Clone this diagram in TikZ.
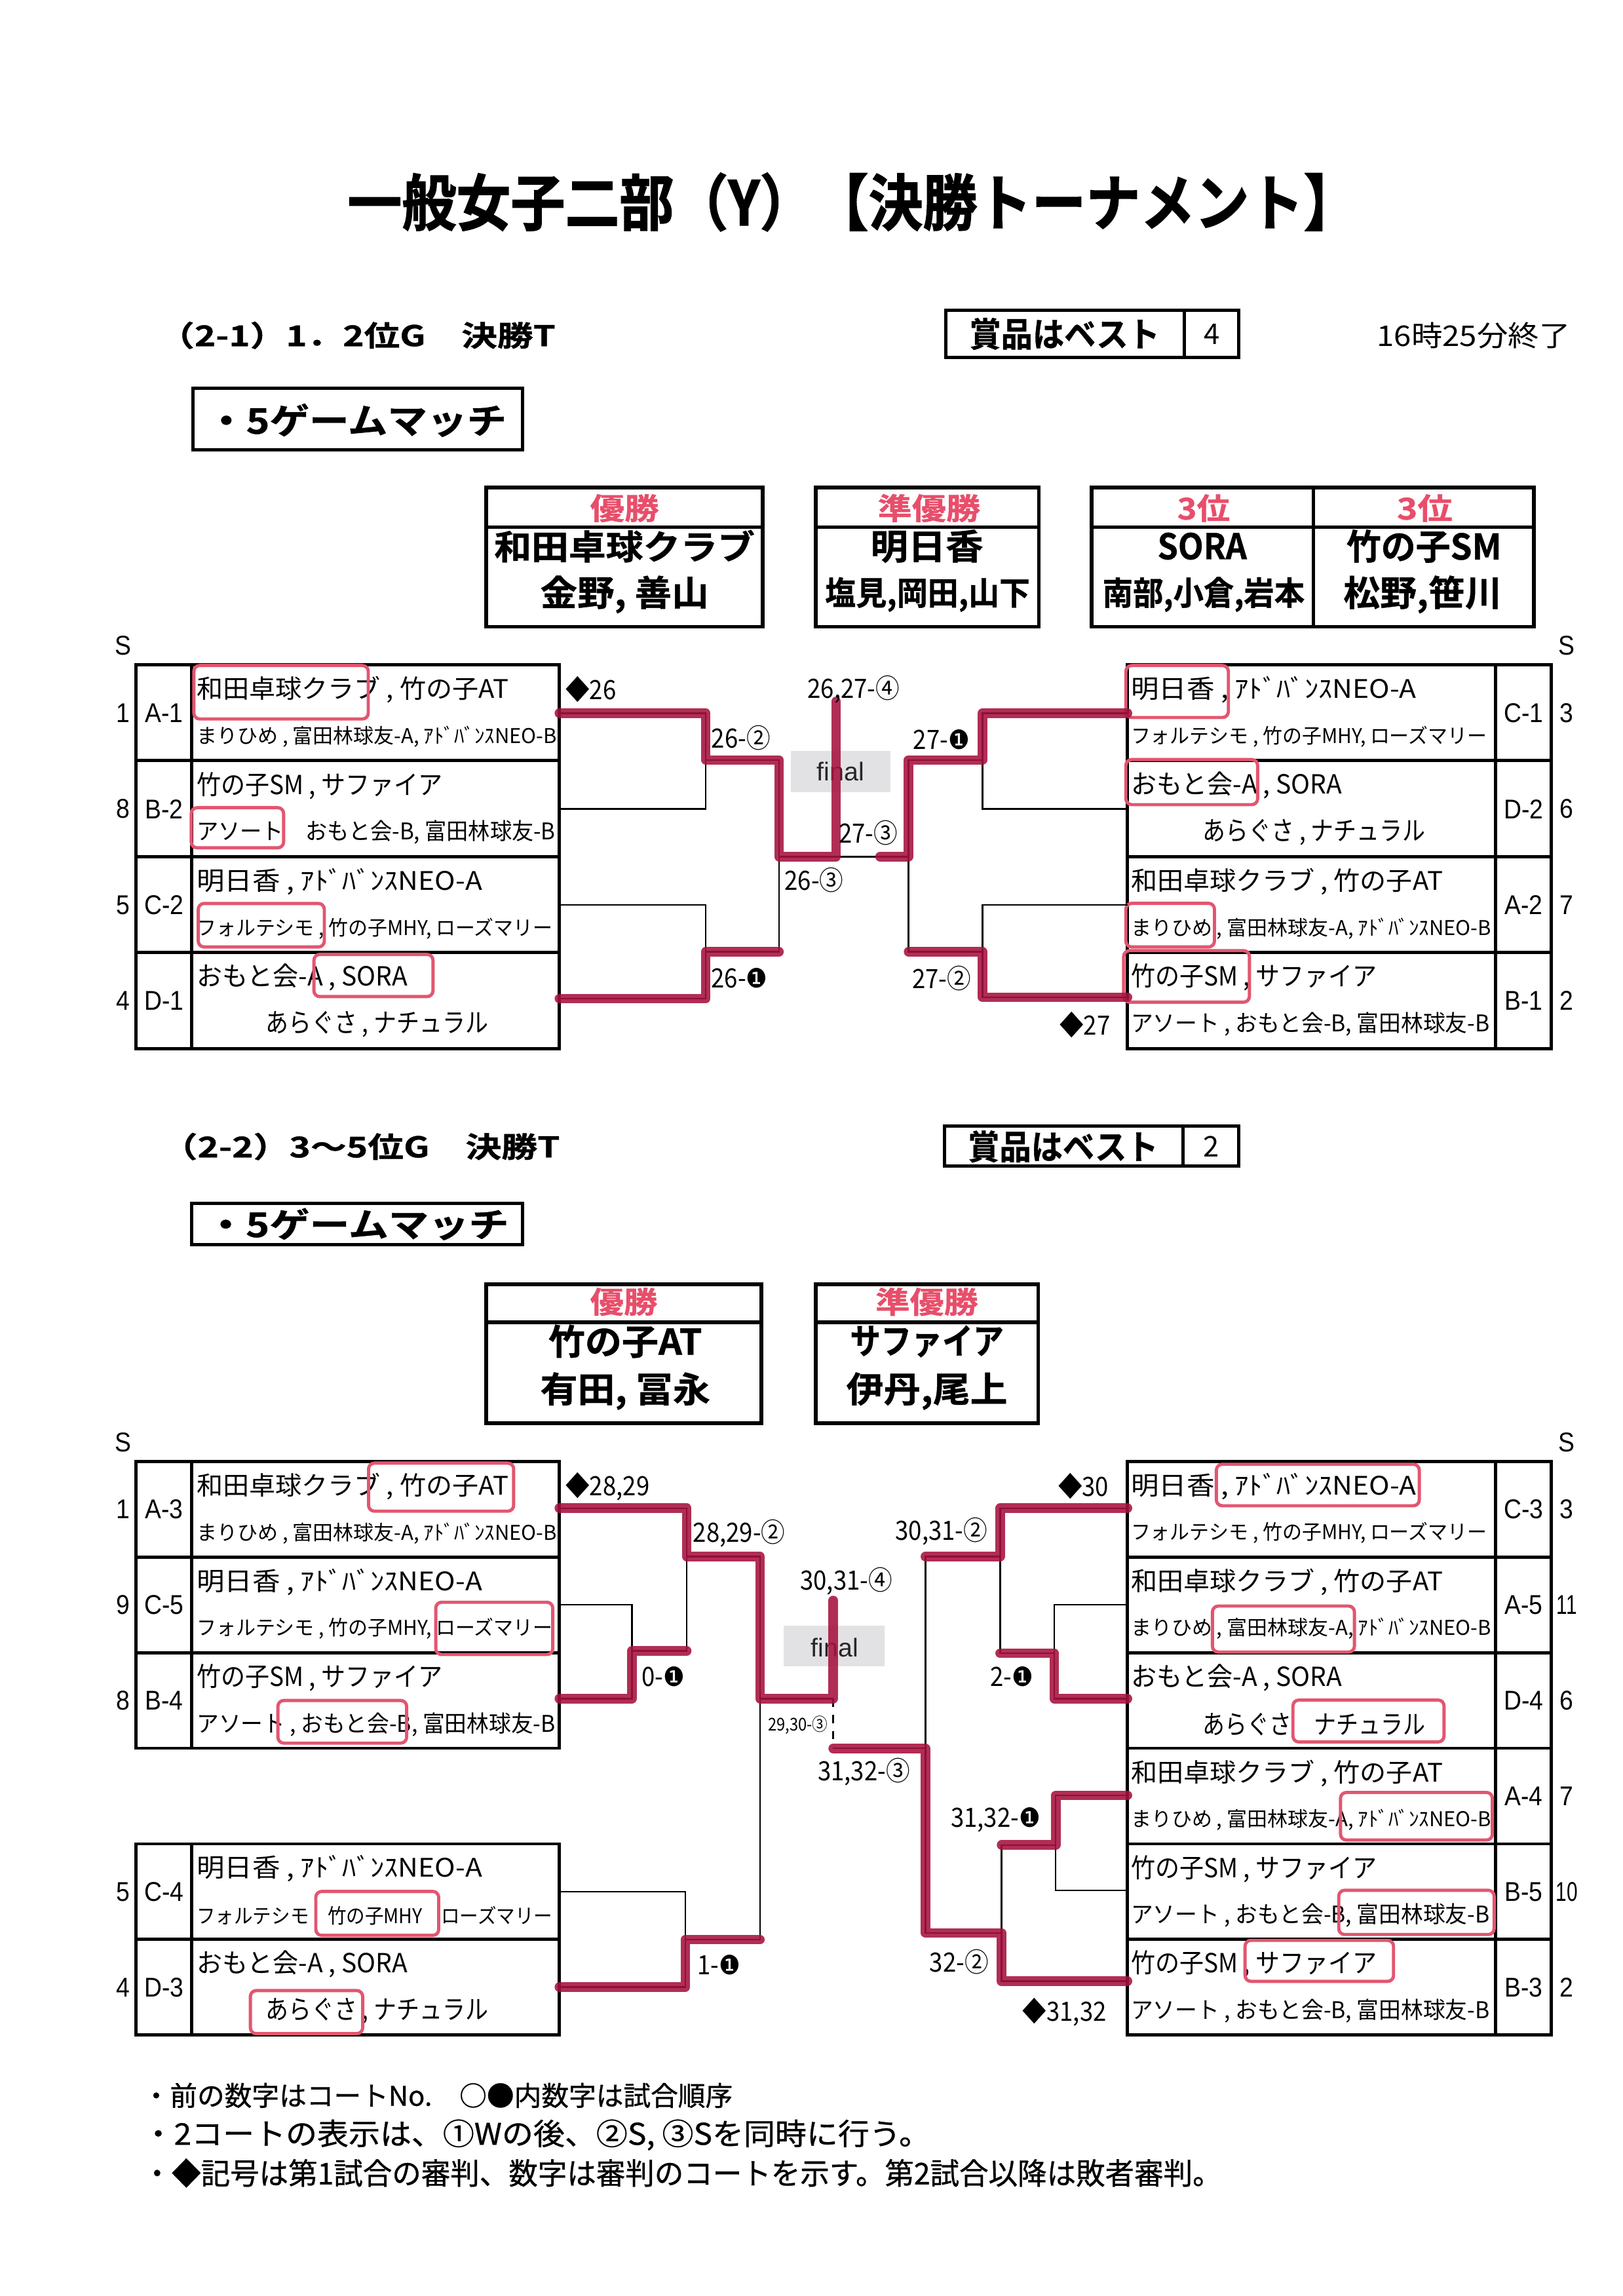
\documentclass[tikz,border=0pt]{standalone}
\usepackage{fontspec}
\usepackage{graphicx}
\setmainfont{Noto Sans CJK JP}
\newfontfamily\jp{Noto Sans CJK JP}
\newfontfamily\jpm{Noto Sans CJK JP}[FakeBold=0.7]
\newfontfamily\jpb{Noto Sans CJK JP Bold}[FakeBold=0.8]
\newfontfamily\jph{Noto Sans CJK JP Bold}[FakeBold=1.6]
\newfontfamily\lat{Liberation Sans}
\newfontfamily\dv{DejaVu Sans}
\definecolor{hlred}{RGB}{166,18,62}
\definecolor{boxred}{RGB}{226,86,112}
\definecolor{titred}{RGB}{232,78,106}
\definecolor{fgray}{RGB}{226,226,229}
\newlength\pxu \setlength\pxu{0.18953mm}
\newcommand\fitw[3]{\resizebox{#1\pxu}{\height}{\fontsize{#2}{#2}\selectfont #3}}
\newcommand\tl[3]{\fitw{#1}{#2}{\jp #3}}
\newcommand\sdf[1]{\scalebox{0.9}[1]{\fontsize{10}{10}\selectfont\lat #1}}
\newcommand\bk{{\dv ❶}}
\newcommand\lb[1]{\scalebox{0.9}[1]{\fontsize{9.8}{9.8}\selectfont\jp #1}}
\newcommand\Ta{\tl{213}{9.4}{和田卓球クラブ , 竹の子AT}}
\newcommand\Tb{\tl{246}{7.5}{まりひめ , 富田林球友-A, ｱﾄﾞﾊﾞﾝｽNEO-B}}
\newcommand\Tc{\tl{168}{9.7}{竹の子SM , サファイア}}
\newcommand\Td{\tl{245}{8.5}{アソート , おもと会-B, 富田林球友-B}}
\newcommand\Tdx{\tl{245}{8.5}{アソート\quad おもと会-B, 富田林球友-B}}
\newcommand\Te{\tl{195}{9.4}{明日香 , ｱﾄﾞﾊﾞﾝｽNEO-A}}
\newcommand\Tf{\tl{243}{7.5}{フォルテシモ , 竹の子MHY, ローズマリー}}
\newcommand\Tfx{\tl{243}{7.5}{フォルテシモ\quad 竹の子MHY\quad ローズマリー}}
\newcommand\Tg{\tl{144}{9.7}{おもと会-A , SORA}}
\newcommand\Th{\tl{152}{9.7}{あらぐさ , ナチュラル}}
\newcommand\Thx{\tl{152}{9.7}{あらぐさ\quad ナチュラル}}
\begin{document}
\begin{tikzpicture}[x=0.18953mm,y=-0.18953mm,
  tbl/.style={line width=2.2\pxu},
  thinl/.style={line width=1.1\pxu},
  hl/.style={line width=6.5\pxu, draw=hlred, opacity=0.88, line cap=round, line join=round},
  rbox/.style={line width=2.2\pxu, draw=boxred, rounded corners=4\pxu},
  tx/.style={inner sep=0pt, anchor=west},
  cx/.style={inner sep=0pt},
  awbox/.style={line width=2.6\pxu}]
\fill[white] (0,0) rectangle (1108,1568);
\useasboundingbox (0,0) rectangle (1108,1568);

% ---------------- header ----------------
\node[cx] (title) at (582.4,138) {\fitw{690}{22.5}{\jph 一般女子二部（Y）【決勝トーナメント】}};
\node[tx] (sub1) at (108,229) {\fitw{271}{10.5}{\jpb （2-1）1．2位G　決勝T}};
\draw[tbl] (646,212) rectangle (846,244) (809,212) -- (809,244);
\node[cx] (prz1) at (727,228) {\fitw{130}{12.5}{\jpb 賞品はベスト}};
\node[cx] (prz1n) at (827.5,228) {\fontsize{10.5}{10.5}\selectfont\jp 4};
\node[tx] (time) at (940,229) {\fitw{132}{10.5}{\jp 16時25分終了}};
\draw[tbl] (131.6,265) rectangle (357,307);
\node[cx] (gm1) at (243.5,287) {\fitw{205}{13}{\jpb ・5ゲームマッチ}};

% award boxes 1
\draw[awbox] (332,333) rectangle (521,428) (332,360) -- (521,360);
\draw[awbox] (557,333) rectangle (709.5,428) (557,360) -- (709.5,360);
\draw[awbox] (745.5,333) rectangle (1047.5,428) (745.5,360) -- (1047.5,360) (897,333) -- (897,428);
\node[cx] (a1h) at (426.5,347) {\fitw{47}{11}{\jpb\color{titred}優勝}};
\node[cx] (a1n) at (426.5,373) {\fitw{178}{12.5}{\jpb 和田卓球クラブ}};
\node[cx] (a1p) at (426.5,406) {\fitw{115}{13}{\jpb 金野, 善山}};
\node[cx] (a2h) at (634.5,347) {\fitw{70}{11}{\jpb\color{titred}準優勝}};
\node[cx] (a2n) at (633,373) {\fitw{77}{13}{\jpb 明日香}};
\node[cx] (a2p) at (633.5,406) {\fitw{140}{12}{\jpb 塩見,岡田,山下}};
\node[cx] (a3h) at (822,347) {\fitw{36}{11}{\jpb\color{titred}3位}};
\node[cx] (a4h) at (973,347) {\fitw{38}{11}{\jpb\color{titred}3位}};
\node[cx] (a3n) at (821,373) {\fitw{61}{13}{\jpb SORA}};
\node[cx] (a4n) at (972.5,373) {\fitw{106}{13}{\jpb 竹の子SM}};
\node[cx] (a3p) at (822,406) {\fitw{138}{12}{\jpb 南部,小倉,岩本}};
\node[cx] (a4p) at (971.5,406) {\fitw{108}{13}{\jpb 松野,笹川}};

% ---------------- bracket 1 tables ----------------
\node[cx] (S1L) at (84,441) {\sdf{S}};
\node[cx] (S1R) at (1070,441) {\sdf{S}};
\draw[tbl] (93,454) rectangle (382,716) (131,454) -- (131,716)
  (93,519.5) -- (382,519.5) (93,585) -- (382,585) (93,650.5) -- (382,650.5);
\draw[tbl] (770,454) rectangle (1059.5,716) (1021.5,454) -- (1021.5,716)
  (770,519.5) -- (1059.5,519.5) (770,585) -- (1059.5,585) (770,650.5) -- (1059.5,650.5);
% left seeds
\node[cx] (n11) at (84,487) {\sdf{1}}; \node[cx] (s11) at (112,487) {\sdf{A-1}};
\node[cx] (n12) at (84,552.5) {\sdf{8}}; \node[cx] (s12) at (112,552.5) {\sdf{B-2}};
\node[cx] (n13) at (84,618) {\sdf{5}}; \node[cx] (s13) at (112,618) {\sdf{C-2}};
\node[cx] (n14) at (84,683.5) {\sdf{4}}; \node[cx] (s14) at (112,683.5) {\sdf{D-1}};
% right seeds
\node[cx] (s15) at (1040.5,487) {\sdf{C-1}}; \node[cx] (n15) at (1070,487) {\sdf{3}};
\node[cx] (s16) at (1040.5,552.5) {\sdf{D-2}}; \node[cx] (n16) at (1070,552.5) {\sdf{6}};
\node[cx] (s17) at (1040.5,618) {\sdf{A-2}}; \node[cx] (n17) at (1070,618) {\sdf{7}};
\node[cx] (s18) at (1040.5,683.5) {\sdf{B-1}}; \node[cx] (n18) at (1070,683.5) {\sdf{2}};
% left texts
\node[tx] (t11a) at (134,471) {\Ta};   \node[tx] (t11b) at (134,503) {\Tb};
\node[tx] (t12a) at (134,536.5) {\Tc}; \node[tx] (t12b) at (134,568.5) {\Tdx};
\node[tx] (t13a) at (134,602) {\Te};   \node[tx] (t13b) at (134,634) {\Tf};
\node[tx] (t14a) at (134,667.5) {\Tg}; \node[tx] (t14b) at (181,699.5) {\Th};
% right texts
\node[tx] (t15a) at (772,471) {\Te};   \node[tx] (t15b) at (772,503) {\Tf};
\node[tx] (t16a) at (772,536.5) {\Tg}; \node[tx] (t16b) at (821,568.5) {\Th};
\node[tx] (t17a) at (772,602) {\Ta};   \node[tx] (t17b) at (772,634) {\Tb};
\node[tx] (t18a) at (772,667.5) {\Tc}; \node[tx] (t18b) at (772,699.5) {\Td};
% red boxes
\draw[rbox] (132.4,454.5) rectangle (251.5,491);
\draw[rbox] (130.6,551.6) rectangle (193.7,579);
\draw[rbox] (135.4,617) rectangle (221.5,646.7);
\draw[rbox] (214.4,651.8) rectangle (295.7,680.6);
\draw[rbox] (768.9,454.5) rectangle (838.9,490);
\draw[rbox] (768.9,518.7) rectangle (858.9,549.5);
\draw[rbox] (768.9,616.9) rectangle (829.4,646.7);
\draw[rbox] (767.4,649.2) rectangle (853.3,684.4);

% ---------------- bracket 1 lines ----------------
\fill[fgray] (540,513) rectangle (608,541);
\node[cx] (fin1) at (574,527) {\fontsize{9.5}{9.5}\selectfont\lat\color{black!85}final};
\coordinate (pA1) at (382,487); \coordinate (pB2) at (382,552.5);
\coordinate (pC2) at (382,618); \coordinate (pD1) at (382,682);
\coordinate (j1) at (482,519); \coordinate (j2) at (482,650);
\coordinate (s1) at (532,585); \coordinate (f1) at (571,479);
\coordinate (qC1) at (770,487); \coordinate (qD2) at (770,552.5);
\coordinate (qA2) at (770,618); \coordinate (qB1) at (770,681);
\coordinate (k1) at (671,519); \coordinate (k2) at (671,650);
\coordinate (s2) at (620.5,585); \coordinate (s2r) at (601,585);
\draw[thinl] (pA1) -| (j1) |- (pB2);
\draw[thinl] (pC2) -| (j2) |- (pD1);
\draw[thinl] (j1) -| (s1) |- (j2);
\draw[thinl] (s1) -- (s2);
\draw[thinl] (qC1) -| (k1) |- (qD2);
\draw[thinl] (qA2) -| (k2) |- (qB1);
\draw[thinl] (k1) -| (s2) |- (k2);
\draw[hl] (pA1) -| (j1) -| (s1) -| (f1);
\draw[hl] (pD1) -| (j2) -- (s1 |- j2);
\draw[hl] (qC1) -| (k1) -| (s2) -- (s2r);
\draw[hl] (qB1) -| (k2) -- (s2 |- k2);
% labels
\node[tx] (d26) at (386,471) {\lb{◆26}};
\node[cx] (l262) at (506,504) {\lb{26-②}};
\node[cx] (l261) at (505,668) {\lb{26-\bk}};
\node[cx] (l264) at (583,471) {\lb{26,27-④}};
\node[cx] (l273) at (593,569) {\lb{27-③}};
\node[cx] (l263) at (556,601) {\lb{26-③}};
\node[cx] (l271) at (643,505) {\lb{27-\bk}};
\node[cx] (l272) at (643,668) {\lb{27-②}};
\node[cx] (d27) at (741,700) {\lb{◆27}};

% ---------------- header 2 ----------------
\node[tx] (sub2) at (110,783) {\fitw{272}{10.5}{\jpb （2-2）3～5位G　決勝T}};
\draw[tbl] (645,769) rectangle (846,796.5) (808,769) -- (808,796.5);
\node[cx] (prz2) at (726,783) {\fitw{130}{12.5}{\jpb 賞品はベスト}};
\node[cx] (prz2n) at (827,783) {\fontsize{10.5}{10.5}\selectfont\jp 2};
\draw[tbl] (131,822) rectangle (357,850);
\node[cx] (gm2) at (244,836) {\fitw{207}{12.5}{\jpb ・5ゲームマッチ}};
\draw[awbox] (332,877) rectangle (520,972) (332,903) -- (520,903);
\draw[awbox] (557,877) rectangle (709,972) (557,903) -- (709,903);
\node[cx] (b1h) at (426,889) {\fitw{46}{11}{\jpb\color{titred}優勝}};
\node[cx] (b1n) at (427,916) {\fitw{105}{13}{\jpb 竹の子AT}};
\node[cx] (b1p) at (427,950) {\fitw{116}{13}{\jpb 有田, 冨永}};
\node[cx] (b2h) at (633,889) {\fitw{70}{11}{\jpb\color{titred}準優勝}};
\node[cx] (b2n) at (633,916) {\fitw{105}{13}{\jpb サファイア}};
\node[cx] (b2p) at (633,950) {\fitw{110}{13}{\jpb 伊丹,尾上}};

% ---------------- bracket 2 tables ----------------
\node[cx] (S2L) at (84,985) {\sdf{S}};
\node[cx] (S2R) at (1070,985) {\sdf{S}};
\draw[tbl] (93,998) rectangle (382,1193.9) (131,998) -- (131,1193.9)
  (93,1063.3) -- (382,1063.3) (93,1128.6) -- (382,1128.6);
\draw[tbl] (93,1259.2) rectangle (382,1389.8) (131,1259.2) -- (131,1389.8)
  (93,1324.5) -- (382,1324.5);
\draw[tbl] (770,998) rectangle (1059.5,1389.8) (1021.5,998) -- (1021.5,1389.8)
  (770,1063.3) -- (1059.5,1063.3) (770,1128.6) -- (1059.5,1128.6)
  (770,1193.9) -- (1059.5,1193.9) (770,1259.2) -- (1059.5,1259.2)
  (770,1324.5) -- (1059.5,1324.5);
% left seeds
\node[cx] (n21) at (84,1030.7) {\sdf{1}}; \node[cx] (s21) at (112,1030.7) {\sdf{A-3}};
\node[cx] (n22) at (84,1096) {\sdf{9}}; \node[cx] (s22) at (112,1096) {\sdf{C-5}};
\node[cx] (n23) at (84,1161.3) {\sdf{8}}; \node[cx] (s23) at (112,1161.3) {\sdf{B-4}};
\node[cx] (n24) at (84,1291.9) {\sdf{5}}; \node[cx] (s24) at (112,1291.9) {\sdf{C-4}};
\node[cx] (n25) at (84,1357.2) {\sdf{4}}; \node[cx] (s25) at (112,1357.2) {\sdf{D-3}};
% right seeds
\node[cx] (s31) at (1040.5,1030.7) {\sdf{C-3}}; \node[cx] (n31) at (1070,1030.7) {\sdf{3}};
\node[cx] (s32) at (1040.5,1096) {\sdf{A-5}}; \node[cx] (n32) at (1070,1096) {\scalebox{0.8}[1]{\sdf{11}}};
\node[cx] (s33) at (1040.5,1161.3) {\sdf{D-4}}; \node[cx] (n33) at (1070,1161.3) {\sdf{6}};
\node[cx] (s34) at (1040.5,1226.6) {\sdf{A-4}}; \node[cx] (n34) at (1070,1226.6) {\sdf{7}};
\node[cx] (s35) at (1040.5,1291.9) {\sdf{B-5}}; \node[cx] (n35) at (1070,1291.9) {\scalebox{0.8}[1]{\sdf{10}}};
\node[cx] (s36) at (1040.5,1357.2) {\sdf{B-3}}; \node[cx] (n36) at (1070,1357.2) {\sdf{2}};
% left texts
\node[tx] (t21a) at (134,1015) {\Ta};     \node[tx] (t21b) at (134,1047) {\Tb};
\node[tx] (t22a) at (134,1080.3) {\Te};   \node[tx] (t22b) at (134,1112.3) {\Tf};
\node[tx] (t23a) at (134,1145.6) {\Tc};   \node[tx] (t23b) at (134,1177.6) {\Td};
\node[tx] (t24a) at (134,1276.2) {\Te};   \node[tx] (t24b) at (134,1308.2) {\Tfx};
\node[tx] (t25a) at (134,1341.5) {\Tg};   \node[tx] (t25b) at (181,1373.5) {\Th};
% right texts
\node[tx] (t31a) at (772,1015) {\Te};     \node[tx] (t31b) at (772,1047) {\Tf};
\node[tx] (t32a) at (772,1080.3) {\Ta};   \node[tx] (t32b) at (772,1112.3) {\Tb};
\node[tx] (t33a) at (772,1145.6) {\Tg};   \node[tx] (t33b) at (821,1177.6) {\Thx};
\node[tx] (t34a) at (772,1210.9) {\Ta};   \node[tx] (t34b) at (772,1242.9) {\Tb};
\node[tx] (t35a) at (772,1276.2) {\Tc};   \node[tx] (t35b) at (772,1308.2) {\Td};
\node[tx] (t36a) at (772,1341.5) {\Tc};   \node[tx] (t36b) at (772,1373.5) {\Td};
% red boxes
\draw[rbox] (251.7,999.2) rectangle (350.8,1032);
\draw[rbox] (297.6,1094.2) rectangle (377.5,1129.9);
\draw[rbox] (189.8,1161.3) rectangle (277.7,1190.4);
\draw[rbox] (215.7,1291.7) rectangle (299.6,1321.7);
\draw[rbox] (171,1359.4) rectangle (247.7,1388.8);
\draw[rbox] (830.7,1000) rectangle (969.3,1028.3);
\draw[rbox] (828,1096.8) rectangle (925,1128.2);
\draw[rbox] (883,1161) rectangle (986.2,1189.6);
\draw[rbox] (915.5,1224.1) rectangle (1019.2,1256.6);
\draw[rbox] (914.3,1290.9) rectangle (1020.4,1321.1);
\draw[rbox] (850.3,1325.1) rectangle (951.7,1353.1);

% ---------------- bracket 2 lines ----------------
\fill[fgray] (535,1110) rectangle (604,1138);
\node[cx] (fin2) at (570,1125) {\fontsize{9.5}{9.5}\selectfont\lat\color{black!85}final};
\coordinate (pA3) at (382,1030); \coordinate (pC5) at (382,1096);
\coordinate (pB4) at (382,1160); \coordinate (pC4) at (382,1292);
\coordinate (pD3) at (382,1357);
\coordinate (m0) at (431.5,1127.5); \coordinate (m1) at (469,1063);
\coordinate (m2) at (468,1324.6); \coordinate (s3) at (519,1160);
\coordinate (f2) at (569,1093); \coordinate (f3) at (569,1194);
\coordinate (qC3) at (770,1030); \coordinate (qA5) at (770,1096);
\coordinate (qD4) at (770,1160); \coordinate (qA4) at (770,1226);
\coordinate (qB5) at (770,1291); \coordinate (qB3) at (770,1353);
\coordinate (n0) at (683,1063); \coordinate (n1) at (720,1129);
\coordinate (n2) at (721,1260); \coordinate (n3) at (684,1320);
\coordinate (s4) at (632,1194);
\draw[thinl] (pC5) -| (m0) |- (pB4);
\draw[thinl] (pA3) -| (m1) |- (m0);
\draw[thinl] (pC4) -| (m2) |- (pD3);
\draw[thinl] (m1) -| (s3) |- (m2);
\draw[thinl] (s3) -- (s3 -| f3);
\draw[thinl,dashed] (s3 -| f3) -- (f3);
\draw[thinl] (qA5) -| (n1) |- (qD4);
\draw[thinl] (qC3) -| (n0) |- (n1);
\draw[thinl] (qA4) -| (n2) |- (qB5);
\draw[thinl] (n2) -| (n3) |- (qB3);
\draw[thinl] (n0) -| (s4) |- (n3);
\draw[thinl] (s4) -- (f3);
\draw[hl] (pA3) -| (m1) -| (s3) -| (f2);
\draw[hl] (pB4) -| (m0) -- (m0 -| m1);
\draw[hl] (pD3) -| (m2) -- (m2 -| s3);
\draw[hl] (qC3) -| (n0) -- (n0 -| s4);
\draw[hl] (qD4) -| (n1) -- (n1 -| n0);
\draw[hl] (qA4) -| (n2) -- (n2 -| n3);
\draw[hl] (qB3) -| (n3) -| (s4) -- (f3);
% labels
\node[tx] (d2829) at (386,1015) {\lb{◆28,29}};
\node[tx] (l28292) at (473,1047) {\lb{28,29-②}};
\node[cx] (l01) at (453,1145) {\lb{0-\bk}};
\node[cx] (l11) at (491,1342) {\lb{1-\bk}};
\node[cx] (l30314) at (578,1080) {\lb{30,31-④}};
\node[cx] (l29303) at (545,1178) {\scalebox{0.88}[1]{\fontsize{6.5}{6.5}\selectfont\jp 29,30-③}};
\node[cx] (l31323) at (590,1210) {\lb{31,32-③}};
\node[cx] (l30312) at (643,1046) {\lb{30,31-②}};
\node[cx] (d30) at (740,1015) {\lb{◆30}};
\node[cx] (l21) at (691,1145) {\lb{2-\bk}};
\node[cx] (l31321) at (680,1243) {\lb{31,32-\bk}};
\node[cx] (l322) at (655,1340) {\lb{32-②}};
\node[cx] (d3132) at (727,1374) {\lb{◆31,32}};

% ---------------- footer ----------------
\node[tx] (ft1) at (97,1431) {\fitw{403}{10}{\jpm ・前の数字はコートNo.　○●内数字は試合順序}};
\node[tx] (ft2) at (97,1458) {\fitw{538}{11}{\jpm ・2コートの表示は、①Wの後、②S, ③Sを同時に行う。}};
\node[tx] (ft3) at (97,1484) {\fitw{737}{11}{\jpm ・◆記号は第1試合の審判、数字は審判のコートを示す。第2試合以降は敗者審判。}};
\end{tikzpicture}
\end{document}
